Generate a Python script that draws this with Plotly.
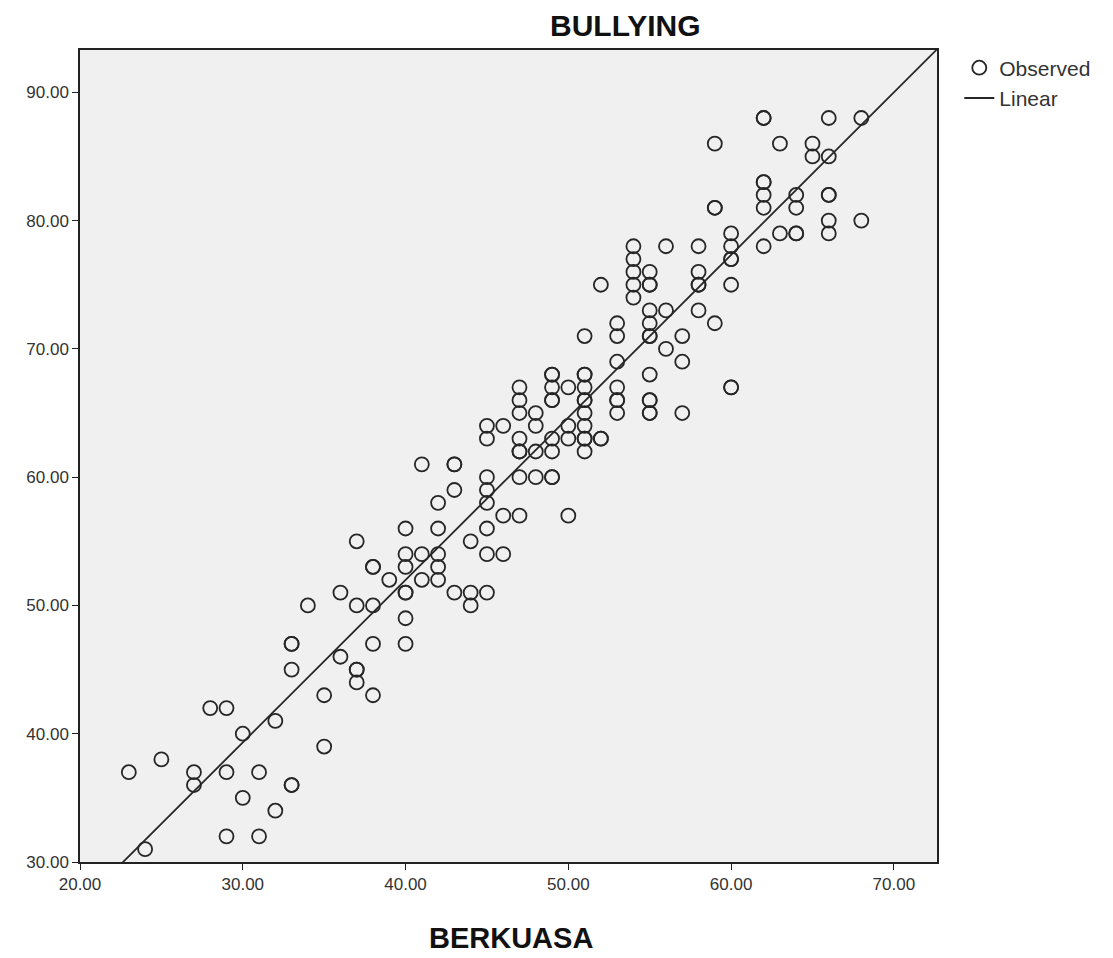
import numpy as np
import plotly.graph_objects as go

# Observed data (BERKUASA, BULLYING); duplicates reflect overplotted (bold) circles
berkuasa = [23, 24, 25, 27, 27, 28, 29, 29, 29, 30, 30, 31, 31, 32, 32,
            33, 33, 33, 33, 33, 34, 35, 35, 36, 36,
            37, 37, 37, 37, 37, 38, 38, 38, 38, 38, 39,
            40, 40, 40, 40, 40, 40, 40, 41, 41, 41,
            42, 42, 42, 42, 42, 43, 43, 43, 43, 44, 44, 44,
            45, 45, 45, 45, 45, 45, 45, 45, 46, 46, 46,
            47, 47, 47, 47, 47, 47, 47, 47, 48, 48, 48, 48,
            49, 49, 49, 49, 49, 49, 49, 49, 49, 50, 50, 50, 50,
            51, 51, 51, 51, 51, 51, 51, 51, 51, 51, 51, 52, 52, 52,
            53, 53, 53, 53, 53, 53, 53, 54, 54, 54, 54, 54,
            55, 55, 55, 55, 55, 55, 55, 55, 55, 55, 55, 55, 56, 56, 56,
            57, 57, 57, 58, 58, 58, 58, 58, 59, 59, 59, 59,
            60, 60, 60, 60, 60, 60, 60, 62, 62, 62, 62, 62, 62, 62,
            63, 63, 64, 64, 64, 64, 65, 65, 66, 66, 66, 66, 66, 66, 68, 68]
bullying = [37, 31, 38, 37, 36, 42, 42, 37, 32, 40, 35, 37, 32, 41, 34,
            47, 47, 45, 36, 36, 50, 43, 39, 51, 46,
            55, 50, 45, 45, 44, 53, 53, 50, 47, 43, 52,
            56, 54, 53, 51, 51, 49, 47, 61, 54, 52,
            58, 56, 54, 53, 52, 61, 61, 59, 51, 55, 51, 50,
            64, 63, 60, 59, 58, 56, 54, 51, 64, 57, 54,
            67, 66, 65, 63, 62, 62, 60, 57, 65, 64, 62, 60,
            68, 68, 67, 66, 66, 63, 62, 60, 60, 67, 64, 63, 57,
            71, 68, 68, 67, 66, 66, 65, 64, 63, 63, 62, 75, 63, 63,
            72, 71, 69, 67, 66, 66, 65, 78, 77, 76, 75, 74,
            76, 75, 75, 73, 72, 71, 71, 68, 66, 66, 65, 65, 78, 73, 70,
            71, 69, 65, 78, 76, 75, 75, 73, 86, 81, 81, 72,
            79, 78, 77, 77, 75, 67, 67, 88, 88, 83, 83, 82, 81, 78,
            86, 79, 82, 81, 79, 79, 86, 85, 88, 85, 82, 82, 80, 79, 88, 80]

x_range = [20, 72.65]
y_range = [30, 93.3]
x_ticks = [20, 30, 40, 50, 60, 70]
y_ticks = [30, 40, 50, 60, 70, 80, 90]

slope, intercept = np.polyfit(berkuasa, bullying, 1)
line_x = np.array(x_range)
line_y = intercept + slope * line_x

ink = "#262626"
font_family = "Liberation Sans, Arial, sans-serif"
fig = go.Figure()
fig.add_trace(go.Scatter(
    x=berkuasa, y=bullying, mode="markers", name="Observed",
    marker=dict(symbol="circle-open", size=14, color=ink, line=dict(width=1.8, color=ink)),
))
fig.add_trace(go.Scatter(
    x=line_x, y=line_y, mode="lines", name="Linear",
    line=dict(color=ink, width=1.8),
))

axis_common = dict(
    showgrid=False, zeroline=False, showline=True, linecolor="#222", linewidth=1.5,
    mirror=True, ticks="outside", ticklen=6, tickcolor="#222", tickwidth=1.3,
    tickfont=dict(family=font_family, size=17, color="#333"),
)
fig.update_xaxes(range=x_range, tickvals=x_ticks,
                 ticktext=[f"{v:.2f}" for v in x_ticks], **axis_common)
fig.update_yaxes(range=y_range, tickvals=y_ticks, ticklabelstandoff=0,
                 ticktext=[f"{v:.2f}" for v in y_ticks], **axis_common)

# page has an 8px body margin; figure is sized/margined to compensate
fig.update_layout(
    width=1105, height=950,
    margin=dict(l=72, r=176, t=42, b=96),
    paper_bgcolor="white", plot_bgcolor="#f0f0f0",
    showlegend=True,
    legend=dict(x=1.026, y=1.003, xanchor="left", yanchor="top",
                font=dict(family=font_family, size=21, color="#333"),
                tracegroupgap=0, itemwidth=30, bgcolor="rgba(0,0,0,0)"),
    annotations=[
        dict(text="<b>BULLYING</b>", xref="paper", yref="paper", x=(625 - 80) / 857, y=1,
             yshift=25, xanchor="center", yanchor="middle", showarrow=False,
             font=dict(family=font_family, size=30, color="#111")),
        dict(text="<b>BERKUASA</b>", xref="paper", yref="paper", x=(511 - 80) / 857, y=0,
             yshift=-76, xanchor="center", yanchor="middle", showarrow=False,
             font=dict(family=font_family, size=29, color="#111")),
    ],
)

fig.write_html("out.html")
